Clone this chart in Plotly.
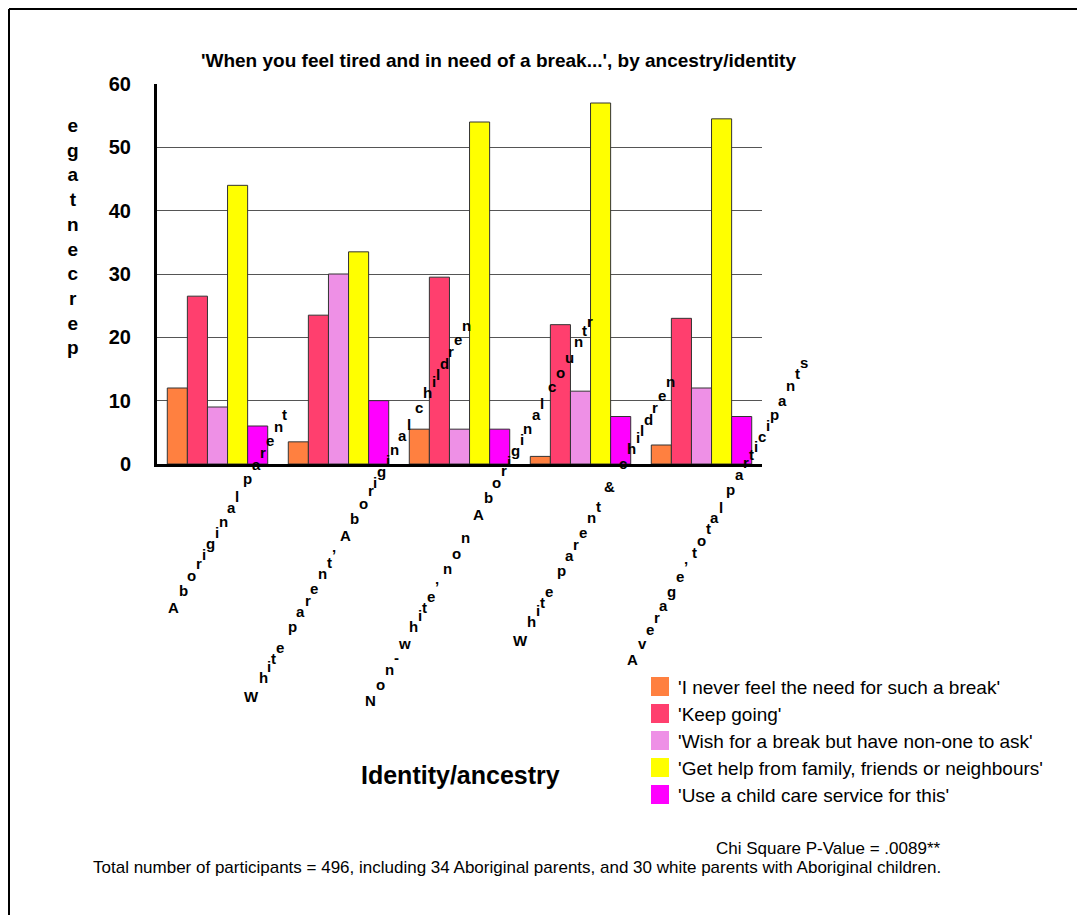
import plotly.graph_objects as go

# ---------------- data ----------------
categories = [
    "Aboriginal parent",
    "White parent’ Aboriginal children",
    "Non-white’ non Aboriginal countr",
    "White parent & children",
    "Average’ total participants",
]
series_names = [
    "'I never feel the need for such a break'",
    "'Keep going'",
    "'Wish for a break but have non-one to ask'",
    "'Get help from family, friends or neighbours'",
    "'Use a child care service for this'",
]
never_need = [12, 3.5, 5.5, 1.2, 3]
keep_going = [26.5, 23.5, 29.5, 22, 23]
wish_break = [9, 30, 5.5, 11.5, 12]
get_help = [44, 33.5, 54, 57, 54.5]
child_care = [6, 10, 5.5, 7.5, 7.5]
series_values = [never_need, keep_going, wish_break, get_help, child_care]
y_ticks = [0, 10, 20, 30, 40, 50, 60]
colors = ["#FF8040", "#FF3F6E", "#EE90E6", "#FFFF00", "#FF00FF"]

title_text = "'When you feel tired and in need of a break...', by ancestry/identity"
y_title = "percentage"
x_title = "Identity/ancestry"
chi_text = "Chi Square P-Value = .0089**"
total_text = ("Total number of participants = 496, including 34 Aboriginal parents, "
              "and 30 white parents with Aboriginal children.")

# ---------------- geometry ----------------
W, H = 1077, 915
L, R, T, B = 157, 762, 84, 464


def px(x):
    return (x - L) / (R - L)


def py(y):
    return (B - y) / (B - T)


fig = go.Figure()
for name, vals, c in zip(series_names, series_values, colors):
    fig.add_trace(go.Bar(
        x=categories, y=vals, name=name,
        marker=dict(color=c, line=dict(color="#333333", width=1)),
        showlegend=False,
    ))

annotations = []
shapes = []

# category labels: upright characters laid out along a 60° diagonal
bold_w = {
    "A": 722, "b": 611, "o": 611, "r": 389, "i": 278, "g": 611, "n": 611,
    "a": 556, "l": 278, " ": 278, "p": 611, "e": 556, "t": 333, "W": 944,
    "h": 611, "’": 278, "c": 556, "d": 611, "N": 722, "-": 333, "w": 778,
    "u": 611, "&": 722, "v": 556, "s": 556,
}
k = 0.0287
cosA, sinA = 0.5, 0.8660254
slot = (R - L) / len(categories)
for ci, lab in enumerate(categories):
    pos = []
    acc = 0
    for ch in lab:
        w = bold_w.get(ch, 556)
        pos.append(acc + w / 2)
        acc += w
    mid = (pos[0] + pos[-1]) / 2
    length = (pos[-1] - pos[0]) * k
    cx = L + slot * (ci + 0.5) + 2.2 + 0.043 * length
    cy = 511
    for ch, s in zip(lab, pos):
        if ch == " ":
            continue
        d = (s - mid) * k
        x = cx + d * cosA
        y = cy - d * sinA
        annotations.append(dict(
            x=px(x), y=py(y), xref="paper", yref="paper",
            text="<b>" + ch + "</b>", showarrow=False,
            xanchor="center", yanchor="middle",
            font=dict(family="Liberation Sans", size=15, color="black"),
        ))

# title
annotations.append(dict(
    x=px(498), y=py(60), xref="paper", yref="paper", text="<b>" + title_text + "</b>",
    showarrow=False, xanchor="center", yanchor="middle",
    font=dict(family="Liberation Sans", size=19, color="black"),
))
# y title (stacked characters, read bottom to top)
annotations.append(dict(
    x=px(73), y=py(236), xref="paper", yref="paper",
    text="<b>" + "<br>".join(reversed(list(y_title))) + "</b>",
    showarrow=False, xanchor="center", yanchor="middle",
    font=dict(family="Liberation Sans", size=19, color="black"),
))
# x title
annotations.append(dict(
    x=px(460), y=py(775), xref="paper", yref="paper", text="<b>" + x_title + "</b>",
    showarrow=False, xanchor="center", yanchor="middle",
    font=dict(family="Liberation Sans", size=25, color="black"),
))
# notes
annotations.append(dict(
    x=px(943), y=py(848), xref="paper", yref="paper", text=chi_text,
    showarrow=False, xanchor="right", yanchor="middle",
    font=dict(family="Liberation Sans", size=17, color="black"),
))
annotations.append(dict(
    x=px(91), y=py(867), xref="paper", yref="paper", text=total_text,
    showarrow=False, xanchor="left", yanchor="middle",
    font=dict(family="Liberation Sans", size=17, color="black"),
))

# legend (custom)
for i, (name, c) in enumerate(zip(series_names, colors)):
    yc = 686.5 + 27 * i
    shapes.append(dict(
        type="rect", xref="paper", yref="paper",
        x0=px(651), x1=px(669), y0=py(yc - 9.5), y1=py(yc + 9.5),
        fillcolor=c, line=dict(width=0),
    ))
    annotations.append(dict(
        x=px(676), y=py(yc + 1), xref="paper", yref="paper", text=name,
        showarrow=False, xanchor="left", yanchor="middle",
        font=dict(family="Liberation Sans", size=19, color="black"),
    ))

# outer frame (top and left edges)
shapes.append(dict(type="line", xref="paper", yref="paper",
                   x0=px(9), x1=px(W + 5), y0=py(9), y1=py(9),
                   line=dict(color="black", width=2)))
shapes.append(dict(type="line", xref="paper", yref="paper",
                   x0=px(9), x1=px(9), y0=py(9), y1=py(H + 5),
                   line=dict(color="black", width=2)))

fig.update_layout(
    width=W, height=H, autosize=False,
    margin=dict(l=L, r=W - R, t=T, b=H - B, pad=0),
    paper_bgcolor="white", plot_bgcolor="white",
    barmode="group", bargap=0.17, bargroupgap=0,
    annotations=annotations, shapes=shapes,
    showlegend=False,
    xaxis=dict(showticklabels=False, showline=True, linecolor="black", linewidth=3,
               showgrid=False, ticks="", zeroline=False),
    yaxis=dict(range=[0, 60], tickvals=y_ticks, showline=True, linecolor="black",
               linewidth=3, showgrid=True, gridcolor="#555555", gridwidth=1,
               zeroline=False, ticks="", ticklabelstandoff=19,
               tickfont=dict(family="Liberation Sans", size=20, color="black", weight="bold")),
)

fig.write_html("out.html")
